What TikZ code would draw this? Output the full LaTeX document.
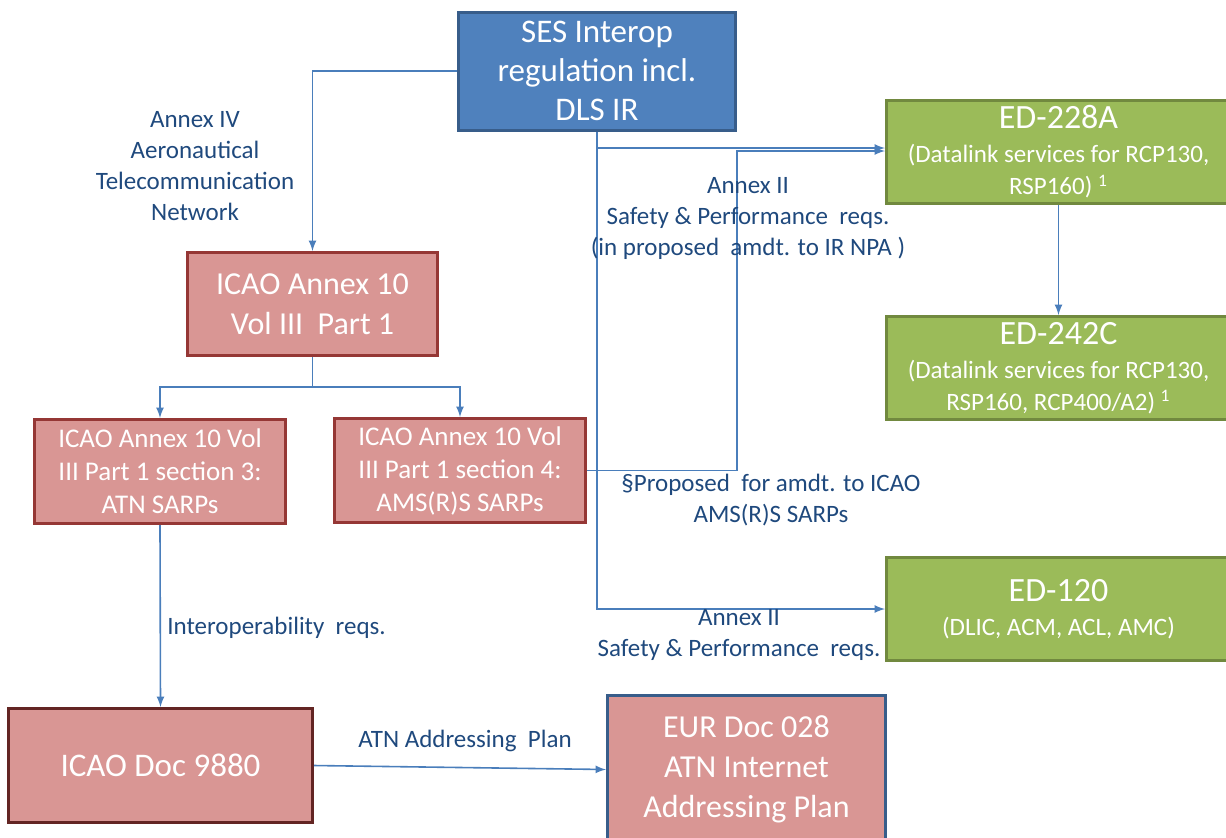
\documentclass[tikz,border=0pt]{standalone}
\usepackage{fontspec}
\setmainfont{Carlito}
\usetikzlibrary{positioning}
\usetikzlibrary{calc}
\usetikzlibrary{arrows}

\definecolor{sesblue}{HTML}{4F81BD}
\definecolor{sesedge}{HTML}{385D8A}
\definecolor{edgreen}{HTML}{9BBB59}
\definecolor{ededge}{HTML}{71893F}
\definecolor{icaopink}{HTML}{D99694}
\definecolor{icaoedge}{HTML}{953735}
\definecolor{docedge}{HTML}{632523}
\definecolor{linkblue}{HTML}{4A7EBB}
\definecolor{lbltext}{HTML}{1F497D}

\begin{document}
\begin{tikzpicture}[x=0.5pt,y=-0.5pt]
\tikzstyle{box} =[rectangle,line width=1.5pt,text=white,align=center,inner sep=0pt]
\tikzstyle{sesbox} =[box,fill=sesblue,draw=sesedge,font=\fontsize{16.5}{19.5}\selectfont]
\tikzstyle{edbox} =[box,fill=edgreen,draw=ededge,minimum width=172pt,minimum height=51.5pt,font=\fontsize{12.5}{16}\selectfont]
\tikzstyle{icaobox} =[box,fill=icaopink,draw=icaoedge]
\tikzstyle{lbl} =[text=lbltext,align=center,inner sep=0pt,font=\fontsize{12.5}{15.5}\selectfont]
\tikzstyle{link} =[draw=linkblue,line width=0.8pt,-latex]
\useasboundingbox (0,0) rectangle (1226,837);

\node[sesbox,minimum width=138.5pt,minimum height=59pt](ses) at (597,71){SES Interop\\regulation incl.\\DLS IR};

\node[edbox](ed228) at (1058.5,152){{\fontsize{17}{19}\selectfont ED-228A}\\[1pt](Datalink services for RCP130,\\RSP160)~\textsuperscript{1}};
\node[edbox](ed242) at (1058.5,368){{\fontsize{17}{19}\selectfont ED-242C}\\[1pt](Datalink services for RCP130,\\RSP160, RCP400/A2)~\textsuperscript{1}};
\node[edbox](ed120) at (1058.5,609){{\fontsize{17}{19}\selectfont ED-120}\\[1pt](DLIC, ACM, ACL, AMC)};

\node[icaobox,minimum width=125pt,minimum height=51.5pt,font=\fontsize{16}{20}\selectfont](annex) at (312.5,304){ICAO Annex 10\\Vol III~~Part 1};
\node[icaobox,minimum width=125.5pt,minimum height=52pt,font=\fontsize{13.5}{16.5}\selectfont](sec3) at (160,471.5){ICAO Annex 10 Vol\\III Part 1 section~3:\\ATN SARPs};
\node[icaobox,minimum width=125.5pt,minimum height=52pt,font=\fontsize{13.5}{16.5}\selectfont](sec4) at (460,470.5){ICAO Annex 10 Vol\\III Part 1 section~4:\\AMS(R)S SARPs};
\node[icaobox,draw=docedge,minimum width=152pt,minimum height=57pt,font=\fontsize{16.5}{20}\selectfont](doc) at (160.5,765.5){ICAO Doc 9880};
\node[icaobox,draw=sesedge,minimum width=139pt,minimum height=74pt,font=\fontsize{16}{20}\selectfont](eur) at (746.5,769.5){EUR Doc 028\\ATN Internet\\Addressing Plan};

\draw[link] (ses.west) -| (annex.north);
\coordinate (split) at (312.5,387);
\draw[link,-] (annex.south) -- (split);
\draw[link] (split) -| (sec3.north);
\draw[link] (split) -| (sec4.north);
\draw[link] (sec3.south) -- (doc.north);
\draw[link] (doc.east) -- (eur.west);

\coordinate (sesbr) at (597,148);
\coordinate (amdt) at (737,151);
\draw[link] (ses.south) |- (ed120.west);
\draw[link] (sesbr) -- (sesbr -| ed228.west);
\draw[link] (sec4.east) -| (amdt) -- (amdt -| ed228.west);
\draw[link] (ed228.south) -- (ed242.north);

\node[lbl](lblatn) at (195,166.5){Annex IV\\Aeronautical\\Telecommunication\\Network};
\node[lbl](lblnpa) at (748,218){Annex II\\Safety \& Performance~ reqs.\\(in proposed~ amdt. to IR NPA )};
\node[lbl](lblprop) at (771,500.5){\S Proposed~ for amdt. to ICAO\\AMS(R)S SARPs};
\node[lbl](lblsafe) at (739,634.5){Annex II\\Safety \& Performance~ reqs.};
\node[lbl,anchor=west](lblinterop) at (167,628){Interoperability~ reqs.};
\node[lbl](lbladdr) at (465,741){ATN Addressing~ Plan};
\end{tikzpicture}
\end{document}
